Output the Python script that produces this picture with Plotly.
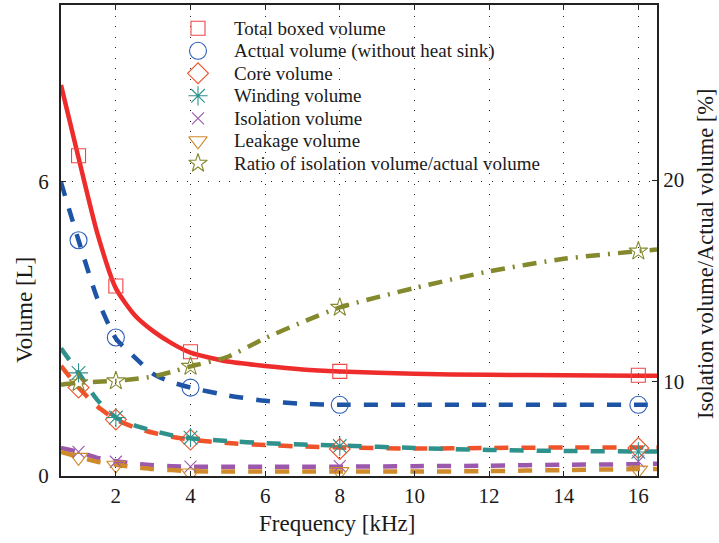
import plotly.graph_objects as go

# ---------------- data ----------------
# sample positions of the fitted curves (kHz)
x_curve = [0.53, 1, 1.5, 2, 2.5, 3, 3.5, 4, 5, 6, 7, 8, 10, 12, 14, 16, 16.5]
total_curve = [7.96, 6.48, 4.95, 3.82, 3.28, 2.95, 2.70, 2.51, 2.33, 2.24, 2.17, 2.13, 2.08, 2.06, 2.05, 2.04, 2.04]
actual_curve = [5.98, 4.80, 3.62, 2.80, 2.42, 2.08, 1.91, 1.80, 1.64, 1.53, 1.47, 1.45, 1.45, 1.45, 1.45, 1.45, 1.45]
core_curve = [2.24, 1.80, 1.42, 1.15, 0.99, 0.88, 0.80, 0.74, 0.67, 0.63, 0.60, 0.58, 0.56, 0.57, 0.58, 0.58, 0.58]
winding_curve = [2.60, 2.10, 1.55, 1.19, 1.03, 0.92, 0.83, 0.77, 0.71, 0.67, 0.64, 0.62, 0.57, 0.53, 0.51, 0.50, 0.50]
isolation_curve = [0.57, 0.49, 0.37, 0.30, 0.25, 0.22, 0.20, 0.19, 0.19, 0.19, 0.19, 0.19, 0.20, 0.21, 0.23, 0.24, 0.25]
leakage_curve = [0.49, 0.39, 0.29, 0.23, 0.18, 0.14, 0.12, 0.10, 0.09, 0.09, 0.09, 0.09, 0.09, 0.10, 0.12, 0.14, 0.14]
ratio_curve = [9.84, 9.94, 9.99, 10.03, 10.12, 10.25, 10.48, 10.75, 11.23, 12.15, 12.95, 13.68, 14.64, 15.47, 16.09, 16.47, 16.55]

# measured points (kHz)
x_points = [1, 2, 4, 8, 16]
total_pts = [6.52, 3.87, 2.53, 2.13, 2.05]
actual_pts = [4.80, 2.82, 1.80, 1.45, 1.45]
core_pts = [1.80, 1.15, 0.74, 0.55, 0.57]
winding_pts = [2.10, 1.19, 0.78, 0.61, 0.49]
isolation_pts = [0.49, 0.29, 0.19, 0.20, 0.30]
leakage_pts = [0.38, 0.22, 0.06, 0.09, 0.12]
ratio_pts = [9.94, 10.03, 10.75, 13.68, 16.47]

names = ["Total boxed volume", "Actual volume (without heat sink)", "Core volume",
         "Winding volume", "Isolation volume", "Leakage volume",
         "Ratio of isolation volume/actual volume"]

x_ticks = [2, 4, 6, 8, 10, 12, 14, 16]
y_ticks = [0, 6]
y2_ticks = [10, 20]

# ---------------- layout geometry (px) ----------------
W, H = 719, 543
L, R, T, B = 61, 657, 5, 476
FONT = "Liberation Serif"
TXT = "#1a1a1a"

series = [
    # curve, points, line colour, marker colour, dash, symbol, size, axis
    (total_curve, total_pts, "#EE2C2C", "#F04646", "solid", "square-open", 14, "y"),
    (actual_curve, actual_pts, "#1E54A6", "#2A5DB8", "14px,13px", "circle-open", 17, "y"),
    (core_curve, core_pts, "#F0532A", "#F0532A", "14px,13px", "diamond-open", 16, "y"),
    (winding_curve, winding_pts, "#2E918C", "#2E918C", "14px,13px", "asterisk-open", 16, "y"),
    (isolation_curve, isolation_pts, "#9B58AD", "#9B58AD", "14px,13px", "x-thin-open", 12, "y"),
    (leakage_curve, leakage_pts, "#CF8A2C", "#CF8A2C", "14px,13px", "triangle-down-open", 16, "y"),
    (ratio_curve, ratio_pts, "#84892E", "#84892E", "14px,8px,2px,8px", "star-open", 14, "y2"),
]

fig = go.Figure()
for (curve, pts, lc, mc, dash, sym, size, ax) in series:
    fig.add_trace(go.Scatter(
        x=x_curve, y=curve, mode="lines", yaxis=ax, showlegend=False,
        line=dict(color=lc, width=4.5, dash=dash, shape="spline", smoothing=0.6),
        hoverinfo="skip"))
for (curve, pts, lc, mc, dash, sym, size, ax), name in zip(series, names):
    fig.add_trace(go.Scatter(
        x=x_points, y=pts, mode="markers", yaxis=ax, name=name, showlegend=False,
        marker=dict(symbol=sym, size=size, color=mc, line=dict(color=mc, width=1.1))))

# ---------------- legend (drawn manually for exact spacing) ----------------
leg_marker_x = 198
leg_text_x = 232
leg_y0, leg_dy = 28.3, 22.5
for i, ((curve, pts, lc, mc, dash, sym, size, ax), name) in enumerate(zip(series, names)):
    py = leg_y0 + i * leg_dy
    fig.add_trace(go.Scatter(
        x=[leg_marker_x], y=[py], xaxis="x2", yaxis="y3", mode="markers",
        showlegend=False, hoverinfo="skip",
        marker=dict(symbol=sym, size=size, color=mc, line=dict(color=mc, width=1.1))))
    fig.add_annotation(x=(leg_text_x - L) / (R - L), y=(B - py) / (B - T),
                       xref="paper", yref="paper", xanchor="left", yanchor="middle",
                       text=name, showarrow=False,
                       font=dict(family=FONT, size=19, color=TXT))

# ---------------- axis titles ----------------
fig.add_annotation(x=(337 - L) / (R - L), y=(B - 523) / (B - T), xref="paper", yref="paper",
                   text="Frequency [kHz]", showarrow=False, xanchor="center", yanchor="middle",
                   font=dict(family=FONT, size=23, color=TXT))
fig.add_annotation(x=(24 - L) / (R - L), y=(B - 310) / (B - T), xref="paper", yref="paper",
                   text="Volume [L]", showarrow=False, textangle=-90, xanchor="center", yanchor="middle",
                   font=dict(family=FONT, size=23, color=TXT))
fig.add_annotation(x=(705 - L) / (R - L), y=(B - 254) / (B - T), xref="paper", yref="paper",
                   text="Isolation volume/Actual volume [%]", showarrow=False, textangle=-90,
                   xanchor="center", yanchor="middle",
                   font=dict(family=FONT, size=22.5, color=TXT))

grid = dict(showgrid=True, gridcolor="#222", gridwidth=1, griddash="1px,9.5px")
fig.update_layout(
    width=W, height=H,
    margin=dict(l=L, r=W - R, t=T, b=H - B),
    paper_bgcolor="white", plot_bgcolor="white",
    font=dict(family=FONT, size=21, color=TXT),
    showlegend=False,
    xaxis=dict(range=[0.53, 16.5], tickvals=x_ticks, ticks="inside", ticklen=5,
               tickcolor="#222", showline=True, linecolor="#222", linewidth=2, mirror="ticks",
               zeroline=False, tickfont=dict(size=21), automargin=False, **grid),
    yaxis=dict(range=[0, 9.59], tickvals=y_ticks, ticks="inside", ticklen=5,
               tickcolor="#222", showline=True, linecolor="#222", linewidth=2,
               zeroline=False, tickfont=dict(size=21), ticklabelstandoff=6,
               automargin=False, **grid),
    yaxis2=dict(range=[5.31, 28.69], tickvals=y2_ticks, ticks="inside", ticklen=5,
                tickcolor="#222", showline=True, linecolor="#222", linewidth=2,
                overlaying="y", side="right", showgrid=False, zeroline=False,
                tickfont=dict(size=21), automargin=False),
    xaxis2=dict(range=[L, R], overlaying="x", visible=False, anchor="y3"),
    yaxis3=dict(range=[B, T], overlaying="y", visible=False, anchor="x2"),
)

fig.write_html("out.html", config={"displayModeBar": False},
               post_script="document.body.style.margin='0px';")
